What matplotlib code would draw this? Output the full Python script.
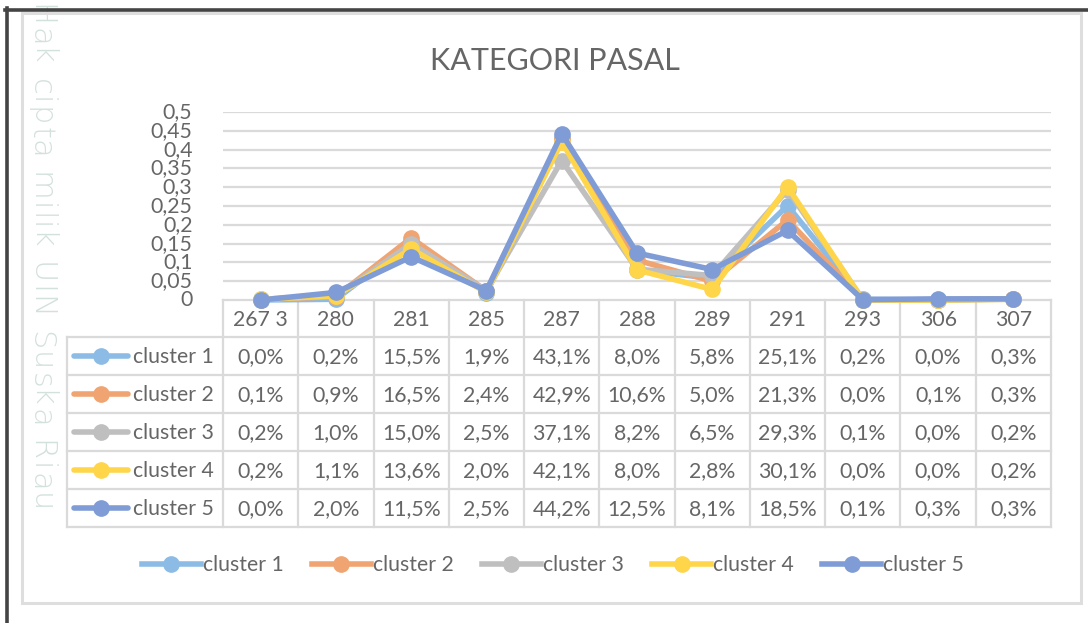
import matplotlib
matplotlib.use("Agg")
import matplotlib.pyplot as plt
from matplotlib.lines import Line2D
from matplotlib.patches import Rectangle

plt.rcParams['font.family'] = ['Lato', 'DejaVu Sans']

categories = ["267 3", "280", "281", "285", "287", "288", "289", "291", "293", "306", "307"]
series_names = ["cluster 1", "cluster 2", "cluster 3", "cluster 4", "cluster 5"]
cluster1 = [0.000, 0.002, 0.155, 0.019, 0.431, 0.080, 0.058, 0.251, 0.002, 0.000, 0.003]
cluster2 = [0.001, 0.009, 0.165, 0.024, 0.429, 0.106, 0.050, 0.213, 0.000, 0.001, 0.003]
cluster3 = [0.002, 0.010, 0.150, 0.025, 0.371, 0.082, 0.065, 0.293, 0.001, 0.000, 0.002]
cluster4 = [0.002, 0.011, 0.136, 0.020, 0.421, 0.080, 0.028, 0.301, 0.000, 0.000, 0.002]
cluster5 = [0.000, 0.020, 0.115, 0.025, 0.442, 0.125, 0.081, 0.185, 0.001, 0.003, 0.003]
series = [cluster1, cluster2, cluster3, cluster4, cluster5]
colors = ["#8cbbe5", "#f0a472", "#bfbfbf", "#ffd54a", "#7f9cd6"]
yticks = [0, 0.05, 0.1, 0.15, 0.2, 0.25, 0.3, 0.35, 0.4, 0.45, 0.5]
ytick_labels = ["0", "0,05", "0,1", "0,15", "0,2", "0,25", "0,3", "0,35", "0,4", "0,45", "0,5"]
title = "KATEGORI PASAL"
watermark = "Hak cipta milik UIN Suska Riau"

W, H = 1088, 623
fig = plt.figure(figsize=(W / 100, H / 100), dpi=100)
fig.patch.set_facecolor("white")

TXT = "#666666"
GRID = "#dadada"
FS = 15.3


def fx(px):
    return px / W


def fy(py):
    return 1 - py / H


# outer borders
fig.add_artist(Line2D([fx(5), fx(1088)], [fy(9.5), fy(9.5)], color="#444444", lw=2.6))
fig.add_artist(Line2D([fx(6.5), fx(6.5)], [fy(8), fy(623)], color="#444444", lw=2.6))
fig.add_artist(Rectangle((fx(22), fy(603)), fx(1081) - fx(22), fy(13) - fy(603),
                         fill=False, ec="#dedede", lw=2.2))

# watermark (vertical, letter-spaced, fitted between y=4 and y=512)
renderer = fig.canvas.get_renderer()
wm_kw = dict(fontsize=22, family=["DejaVu Sans"], fontweight="light")


def char_w(ch):
    if ch == " ":
        a = fig.text(0, 0, "a a", **wm_kw)
        b = fig.text(0, 0, "aa", **wm_kw)
        w = a.get_window_extent(renderer).width - b.get_window_extent(renderer).width
        a.remove()
        b.remove()
        return w
    t = fig.text(0, 0, ch, **wm_kw)
    w = t.get_window_extent(renderer).width
    t.remove()
    return w


widths = [char_w(c) for c in watermark]
wm_start, wm_end = 4, 512
tracking = (wm_end - wm_start - sum(widths)) / (len(watermark) - 1)
ypos = wm_start
for ch, w in zip(watermark, widths):
    if ch != " ":
        fig.text(fx(40), fy(ypos), ch, rotation=-90, rotation_mode="anchor",
                 ha="left", va="center", color="#d3e1dd", zorder=0, **wm_kw)
    ypos += w + tracking

# plot axes
x0, x1 = 223, 1051
ytop, ybot = 112, 300
ax = fig.add_axes([fx(x0), fy(ybot), fx(x1) - fx(x0), fy(ytop) - fy(ybot)])
ax.set_facecolor("none")
n = len(categories)
xs = list(range(n))
for vals, col in zip(series, colors):
    ax.plot(xs, vals, color=col, lw=4, marker="o", ms=11, solid_joinstyle="round",
            solid_capstyle="round", clip_on=False, zorder=3)
ax.set_xlim(-0.5, n - 0.5)
ax.set_ylim(0, 0.5)
ax.set_yticks(yticks)
ax.set_yticklabels(ytick_labels)
ax.tick_params(axis="y", length=0, pad=22, labelsize=FS, labelcolor=TXT)
ax.set_xticks([])
for t in yticks[1:]:
    ax.axhline(t, color=GRID, lw=1.6, zorder=1)
for s in ax.spines.values():
    s.set_visible(False)
for lbl in ax.get_yticklabels():
    lbl.set_verticalalignment("center")

fig.text(fx(555), fy(61), title, ha="center", va="center", fontsize=22, color=TXT)

# data table
tleft = 67
row_top = 300
row_h = 38
header_h = 37
tab = fig.add_axes([0, 0, 1, 1])
tab.set_xlim(0, W)
tab.set_ylim(H, 0)
tab.axis("off")
tab.set_zorder(-1)
col_w = (x1 - x0) / n
rows_top = row_top + header_h
rows_bot = rows_top + row_h * len(series)
lwg = 1.6
tab.plot([x0, x1], [row_top, row_top], color=GRID, lw=lwg)
for i in range(n + 1):
    tab.plot([x0 + i * col_w] * 2, [row_top, rows_bot], color=GRID, lw=lwg)
tab.plot([tleft, tleft], [rows_top, rows_bot], color=GRID, lw=lwg)
for r in range(len(series) + 1):
    tab.plot([tleft, x1], [rows_top + r * row_h] * 2, color=GRID, lw=lwg)
for i, c in enumerate(categories):
    tab.text(x0 + (i + 0.5) * col_w, row_top + header_h / 2 + 1, c, ha="center", va="center",
             fontsize=FS, color=TXT)
for r, (name, vals, col) in enumerate(zip(series_names, series, colors)):
    yc = rows_top + (r + 0.5) * row_h
    tab.plot([74, 128], [yc, yc], color=col, lw=4, solid_capstyle="round")
    tab.plot([101], [yc], marker="o", ms=11, color=col)
    tab.text(133, yc + 1, name, ha="left", va="center", fontsize=FS, color=TXT)
    for i, v in enumerate(vals):
        s = f"{v * 100:.1f}%".replace(".", ",")
        tab.text(x0 + (i + 0.5) * col_w, yc + 1, s, ha="center", va="center",
                 fontsize=FS, color=TXT)

# legend
handles = [Line2D([0], [0], color=c, lw=4, marker="o", ms=11) for c in colors]
leg = fig.legend(handles, series_names, loc="center", bbox_to_anchor=(fx(553), fy(565)),
                 ncol=5, frameon=False, fontsize=FS, handlelength=2.75, handletextpad=0.1,
                 columnspacing=1.35, labelcolor=TXT)

fig.savefig("out.png", dpi=100, facecolor="white")
